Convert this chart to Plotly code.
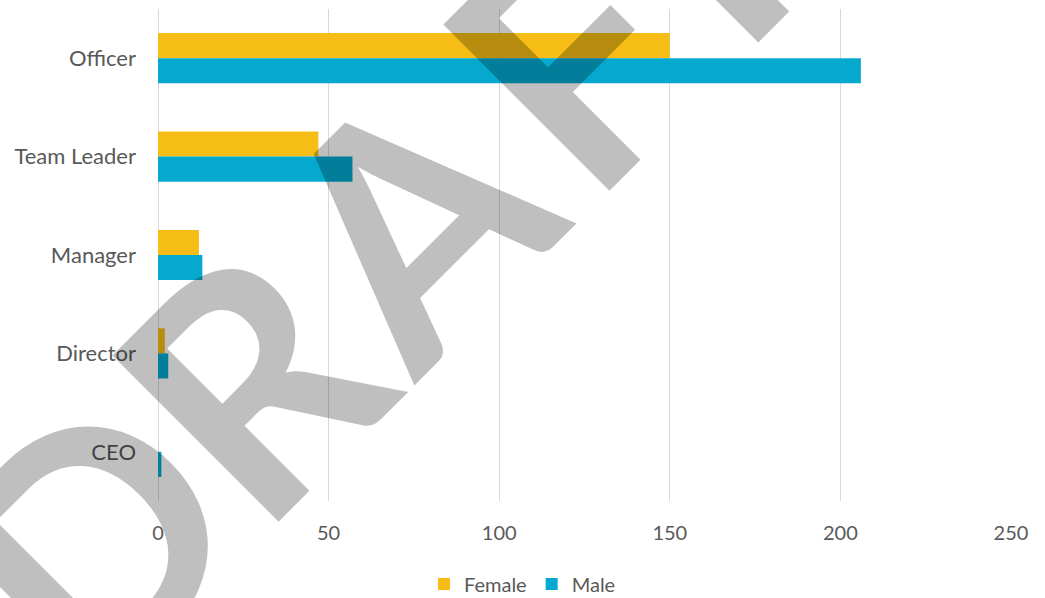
import math
import plotly.graph_objects as go

# Headcount by role and gender
roles = ["Officer", "Team Leader", "Manager", "Director", "CEO"]
female = [150, 47, 12, 2, 0]
male = [206, 57, 13, 3, 1]
x_ticks = [0, 50, 100, 150, 200, 250]

FEMALE_COLOR = "#F5BD15"
MALE_COLOR = "#05A9CE"
TEXT_COLOR = "#595959"
GRID_COLOR = "#D9D9D9"
FONT = "Lato, 'Noto Sans', sans-serif"

W, H = 1045, 598
M_L, M_R, M_T, M_B = 158, 34, 9, 97

fig = go.Figure()
fig.add_trace(go.Bar(name="Female", y=roles, x=female, orientation="h",
                     marker=dict(color=FEMALE_COLOR, line=dict(width=0))))
fig.add_trace(go.Bar(name="Male", y=roles, x=male, orientation="h",
                     marker=dict(color=MALE_COLOR, line=dict(width=0))))

# Diagonal "DRAFT" watermark, one letter per annotation along a 45-degree baseline.
# (u, v) is a rotated pixel frame: u along the baseline, v across it.
plot_w = W - M_L - M_R
plot_h = H - M_T - M_B
letters = [("D", -318), ("R", -92), ("A", 134), ("F", 362), ("T", 528)]
v_mid = 440
s2 = math.sqrt(2)
for ch, u in letters:
    px = (u + v_mid) / s2
    py = (v_mid - u) / s2
    fig.add_annotation(
        text=ch, showarrow=False, textangle=-45,
        xref="paper", yref="paper",
        x=(px - M_L) / plot_w, y=(H - M_B - py) / plot_h,
        xanchor="center", yanchor="middle",
        font=dict(family=FONT, size=325, color="rgba(0,0,0,0.25)", weight=700),
    )

fig.update_layout(
    width=W, height=H,
    margin=dict(l=M_L, r=M_R, t=M_T, b=M_B),
    paper_bgcolor="white", plot_bgcolor="white",
    barmode="group", bargap=0.49, bargroupgap=0,
    font=dict(family=FONT, color=TEXT_COLOR, size=20),
    showlegend=True,
    legend=dict(orientation="h", xref="container", yref="container",
                x=0.5, xanchor="center", y=14 / H, yanchor="middle",
                font=dict(size=20, color=TEXT_COLOR), itemwidth=30),
    xaxis=dict(range=[0, 250], tickvals=x_ticks, showgrid=True,
               gridcolor=GRID_COLOR, gridwidth=1, zeroline=True,
               zerolinecolor=GRID_COLOR, zerolinewidth=1, showline=False,
               ticks="", tickfont=dict(size=20, color=TEXT_COLOR),
               ticklabelstandoff=18, fixedrange=True),
    yaxis=dict(autorange="reversed", showgrid=False, showline=False,
               ticks="", tickfont=dict(size=22, color=TEXT_COLOR),
               ticklabelstandoff=21, fixedrange=True),
)

fig.write_html("out.html")
